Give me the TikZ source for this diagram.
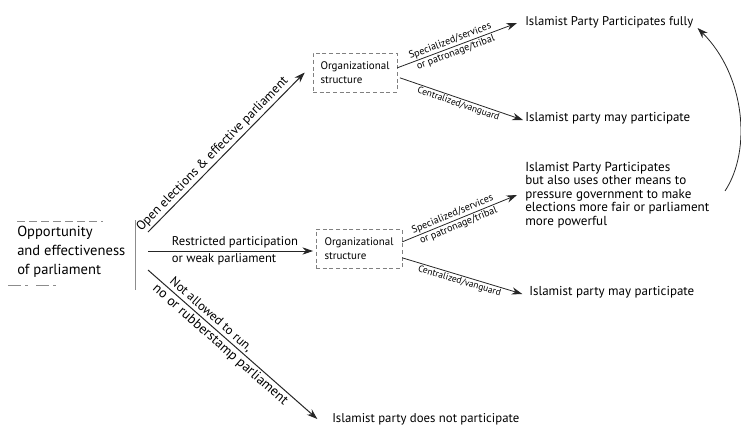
\documentclass[tikz,border=0pt]{standalone}
\usepackage{fontspec}
\setmainfont{PT Sans}
\usetikzlibrary{arrows.meta}
\newlength\fitlen
% #1 target width in px, #2 leading in pt, #3 sample (widest) text
\newcommand\fitfont[3]{\settowidth\fitlen{\fontsize{10pt}{12pt}\selectfont #3}\pgfmathsetmacro\fitsz{7.5*#1/\fitlen}\fontsize{\fitsz pt}{#2pt}\selectfont}
\begin{document}
\begin{tikzpicture}[x=0.75pt,y=-0.75pt,
  arr/.style={draw=black!85, line width=0.75pt, -{Stealth[length=8pt,width=5.5pt]}},
  thinarr/.style={draw=black!85, line width=0.6pt, -{Stealth[length=8pt,width=5.5pt]}},
  orgbox/.style={draw=black!50, densely dashed, line width=0.4pt, inner sep=0pt, minimum width=63pt, minimum height=29pt, font={\fitfont{69}{10.5}{Organizational}}, align=left},
  result/.style={anchor=west, inner sep=0pt, align=left},
  lab/.style={inner sep=1.5pt},
  smalllab/.style={inner sep=1pt},
  frame/.style={draw=black!45, line width=0.5pt}
]
\useasboundingbox (0,0) rectangle (741,433);

% left source
\node[font={\fitfont{108}{14.2}{and effectiveness}}, align=left, anchor=west, inner sep=0pt] (opp) at (17,252) {Opportunity\\and effectiveness\\of parliament};
\draw[frame, dash pattern=on 6pt off 3pt] (17,221) -- (103,221);
\draw[frame, dash pattern=on 10pt off 3pt on 2pt off 6pt] (8,285) -- (63,285);
\draw[frame] (135,220) -- (135,290);
\coordinate (s1) at (148,232);
\coordinate (s2) at (148,251);
\coordinate (s3) at (148,270);

% organizational structure boxes
\node[orgbox] (org1) at (355,72.5) {Organizational\\structure};
\node[orgbox, minimum width=64.5pt] (org2) at (359,248.5) {Organizational\\structure};

% results
\node[result, font={\fitfont{168}{10}{Islamist Party Participates fully}}] (full) at (525,22) {Islamist Party Participates fully};
\node[result, font={\fitfont{165}{10}{Islamist party may participate}}] (may1) at (525,118) {Islamist party may participate};
\node[result, font={\fitfont{184}{10.1}{elections more fair or parliament}}] (uses) at (525,195) {Islamist Party Participates\\but also uses other means to\\pressure government to make\\elections more fair or parliament\\more powerful};
\node[result, font={\fitfont{165}{10}{Islamist party may participate}}] (may2) at (529,292) {Islamist party may participate};
\node[result, font={\fitfont{187}{10}{Islamist party does not participate}}] (not) at (332,419) {Islamist party does not participate};

% main arrows
\draw[arr] (s1) -- ([xshift=-6pt]org1.west)
  node[lab, pos=0.45, above, sloped, font={\fitfont{210}{10}{Open elections \& effective parliament}}] {Open elections \& effective parliament};
\draw[arr] (s2) -- ([xshift=-2pt]org2.west |- s2)
  node[lab, pos=0.13, anchor=south west, font={\fitfont{126}{10}{Restricted participation}}] {Restricted participation}
  node[lab, pos=0.13, anchor=north west, font={\fitfont{126}{10}{Restricted participation}}] {or weak parliament};
\draw[arr] (s3) -- ([xshift=-11pt]not.west)
  node[lab, pos=0.34, above, sloped, font={\fitfont{105}{10}{Not allowed to run,}}] {Not allowed to run,}
  node[lab, pos=0.46, below, sloped, font={\fitfont{175}{10}{no or rubberstamp parliament}}] {no or rubberstamp parliament};

% branches from the first box
\draw[thinarr] ([yshift=3.5pt]org1.east) -- ([xshift=-6pt,yshift=-0.75pt]full.west)
  node[smalllab, pos=0.46, above, sloped, font={\fitfont{87}{8}{Specialized/services}}] {Specialized/services}
  node[smalllab, pos=0.47, below, sloped, font={\fitfont{87}{8}{Specialized/services}}] {or patronage/tribal};
\draw[thinarr] ([xshift=2pt,yshift=-4pt]org1.east) -- ([xshift=-1.5pt,yshift=-1.5pt]may1.west)
  node[smalllab, pos=0.49, below, sloped, font={\fitfont{86}{8}{Centralized/vanguard}}] {Centralized/vanguard};

% branches from the second box
\draw[thinarr] ([yshift=5pt]org2.east) -- ([xshift=-6pt]uses.west)
  node[smalllab, pos=0.46, above, sloped, font={\fitfont{87}{8}{Specialized/services}}] {Specialized/services}
  node[smalllab, pos=0.47, below, sloped, font={\fitfont{87}{8}{Specialized/services}}] {or patronage/tribal};
\draw[thinarr] ([yshift=-7pt]org2.east) -- ([xshift=-5pt,yshift=-1.5pt]may2.west)
  node[smalllab, pos=0.49, below, sloped, font={\fitfont{86}{8}{Centralized/vanguard}}] {Centralized/vanguard};

% feedback curve
\coordinate (c0) at (725,191);
\draw[thinarr] (c0) .. controls (752,150) and (745,75) .. ([xshift=3pt,yshift=-4.5pt]full.east);
\end{tikzpicture}
\end{document}
